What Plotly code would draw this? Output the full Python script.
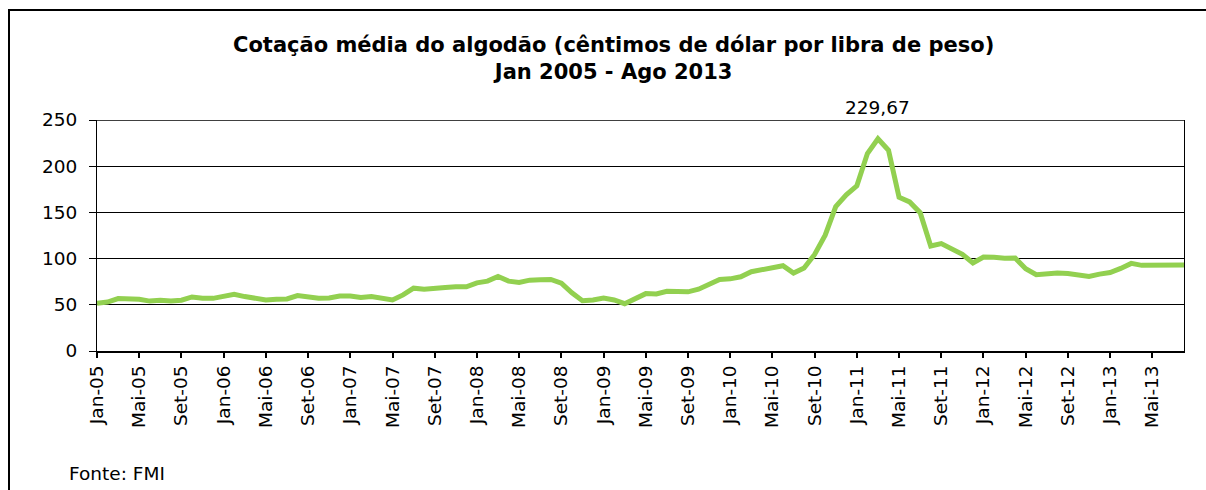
import plotly.graph_objects as go

month_names = ["Jan", "Fev", "Mar", "Abr", "Mai", "Jun", "Jul", "Ago", "Set", "Out", "Nov", "Dez"]
years = ["05", "06", "07", "08", "09", "10", "11", "12", "13"]
categories = [f"{m}-{y}" for y in years for m in month_names][:104]

prices = [
    51.6, 53.0, 56.7, 57.0, 56.0, 54.0, 55.0, 54.0, 55.0, 58.5, 57.0, 57.0,
    59.6, 61.4, 58.9, 56.7, 55.2, 56.0, 56.3, 60.0, 58.9, 57.0, 57.4, 59.6,
    59.6, 58.0, 58.9, 57.0, 55.2, 60.7, 68.0, 66.9, 68.3, 68.7, 69.4, 69.4,
    73.8, 75.6, 80.7, 75.6, 74.1, 76.7, 77.0, 77.4, 73.4, 62.9, 54.5, 55.2,
    57.4, 55.2, 51.2, 57.0, 62.1, 61.8, 64.7, 64.3, 64.0, 66.9, 72.3, 77.4,
    78.1, 80.3, 85.8, 87.9, 90.1, 92.3, 84.3, 89.8, 104.5, 125.4, 156.3, 169.0,
    178.8, 213.7, 229.67, 217.3, 166.4, 161.3, 149.7, 113.7, 116.3, 110.1, 104.7, 95.2,
    101.7, 101.4, 100.3, 100.7, 89.0, 82.5, 83.9, 84.3, 83.9, 82.1, 80.7, 83.2,
    85.0, 89.4, 94.8, 92.7, 92.7, 93.4, 93.0, 93.0,
]

tick_labels = categories[::4]
y_ticks = [0, 50, 100, 150, 200, 250]
peak_label = "229,67"
title_lines = ["Cotação média do algodão (cêntimos de dólar por libra de peso)", "Jan 2005 - Ago 2013"]
source_text = "Fonte: FMI"

FONT = "DejaVu Sans, Verdana, sans-serif"
TXT = 18.5

W, H = 1206, 490
L, R, T, B = 97, 22, 120, 139
plot_w = W - L - R
plot_h = H - T - B


def px(xp):
    return (xp - L) / plot_w


def py(yp):
    return (H - B - yp) / plot_h


fig = go.Figure()
fig.add_trace(go.Scatter(
    x=categories, y=prices, mode="lines",
    line=dict(color="#92D050", width=5),
    hoverinfo="x+y", showlegend=False,
))

peak_idx = prices.index(max(prices))
fig.add_annotation(
    x=categories[peak_idx], y=prices[peak_idx], text=peak_label,
    showarrow=False, yanchor="middle", yshift=31,
    font=dict(family=FONT, size=TXT, color="black"),
)

fig.add_annotation(
    x=px(613), xref="paper", y=py(58), yref="paper", yanchor="middle",
    xanchor="center", text="<b>" + title_lines[0] + "<br>" + title_lines[1] + "</b>",
    showarrow=False, font=dict(family=FONT, size=21, color="black"),
)

fig.add_annotation(
    x=px(67), xref="paper", y=py(473), yref="paper", xanchor="left", yanchor="middle",
    text=source_text, showarrow=False,
    font=dict(family=FONT, size=TXT, color="black"),
)

fig.add_shape(
    type="rect", xref="paper", yref="paper",
    x0=px(9), x1=px(1215), y0=py(500), y1=py(10),
    line=dict(color="black", width=2), fillcolor="rgba(0,0,0,0)", layer="below",
)

# top border of the plot area
fig.add_shape(
    type="line", xref="paper", yref="y", x0=0, x1=1, y0=y_ticks[-1], y1=y_ticks[-1],
    line=dict(color="black", width=1.5), layer="above",
)

fig.update_layout(
    width=W, height=H,
    margin=dict(l=L, r=R, t=T, b=B),
    paper_bgcolor="white", plot_bgcolor="white",
    font=dict(family=FONT, size=TXT, color="black"),
    xaxis=dict(
        type="category", range=[0, len(categories) - 1],
        tickmode="array", tickvals=tick_labels, ticktext=tick_labels,
        tickangle=-90, ticks="outside", ticklen=5, tickwidth=2, tickcolor="black",
        showline=True, linecolor="black", linewidth=2, showgrid=False,
        tickfont=dict(family=FONT, size=TXT, color="black"),
    ),
    yaxis=dict(
        range=[0, 250], tickmode="array", tickvals=y_ticks,
        ticks="outside", ticklen=7, tickcolor="black",
        ticklabelstandoff=8,
        showline=True, linecolor="black", linewidth=1, mirror=True,
        showgrid=True, gridcolor="black", gridwidth=1, zeroline=False,
        tickfont=dict(family=FONT, size=TXT, color="black"),
    ),
)

fig.write_html(
    "out.html",
    config={"displayModeBar": False},
    post_script="document.body.style.margin='0';",
)
